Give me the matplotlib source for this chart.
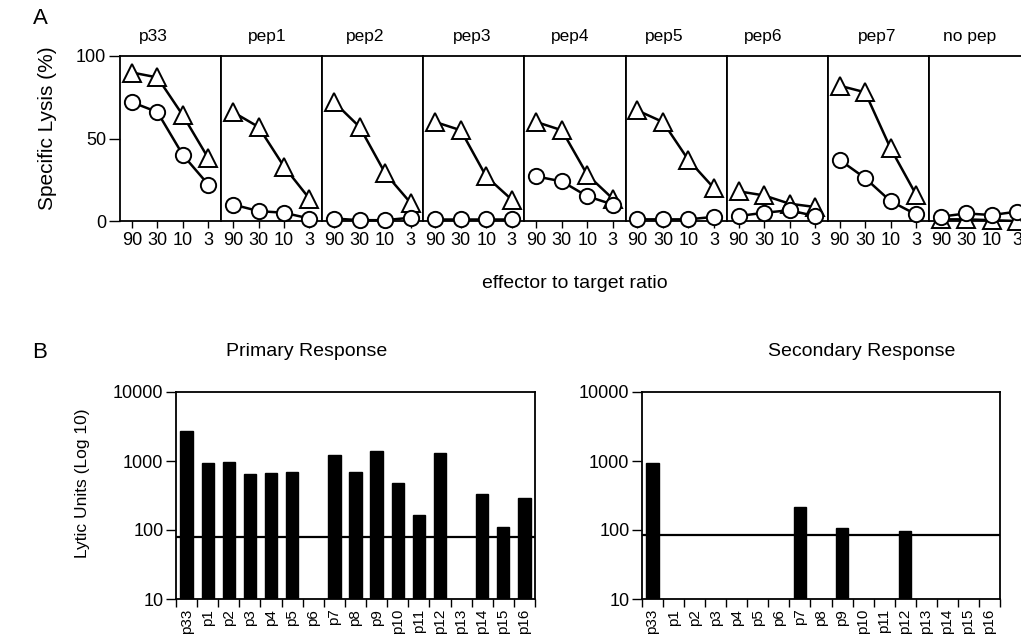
import matplotlib
matplotlib.use("Agg")
import matplotlib.pyplot as plt
import numpy as np
from matplotlib.ticker import FixedLocator, NullLocator, FixedFormatter

plt.rcParams['font.family'] = ['Liberation Sans', 'DejaVu Sans']

# ---------------- Data ----------------
# Panel A: specific lysis (%) at effector:target ratios
ratios = ['90', '30', '10', '3']
peptides_a = ['p33', 'pep1', 'pep2', 'pep3', 'pep4', 'pep5', 'pep6', 'pep7', 'no pep']
triangle_lysis = [
    [90, 87, 64, 38],
    [66, 57, 33, 13.5],
    [72, 57, 29, 11],
    [60, 55, 27, 13],
    [60, 55, 28, 13.5],
    [67, 60, 37, 20],
    [18, 15.5, 10.5, 8.5],
    [82, 78, 44, 16],
    [1, 1, 0.5, 0],
]
circle_lysis = [
    [72, 66, 40, 22],
    [10, 6, 5, 1.5],
    [1.5, 0.5, 0.5, 2],
    [1.5, 1.5, 1.5, 1.5],
    [27, 24, 15, 10],
    [1, 1, 1, 2.5],
    [3, 5, 6.5, 3],
    [37, 26, 12, 4],
    [2.6, 4.6, 3.6, 5.7],
]

# Panel B: lytic units
peptides_b = ['p33', 'p1', 'p2', 'p3', 'p4', 'p5', 'p6', 'p7', 'p8', 'p9',
              'p10', 'p11', 'p12', 'p13', 'p14', 'p15', 'p16']
primary_lu = [2700, 920, 960, 650, 660, 690, 0, 1210, 690, 1410,
              480, 163, 1290, 0, 330, 110, 290]
secondary_lu = [950, 0, 0, 0, 0, 0, 0, 215, 0, 107,
                0, 0, 97, 0, 0, 0, 0]
primary_threshold = 79
secondary_threshold = 85

# ---------------- Figure ----------------
W, H = 1021, 640
fig = plt.figure(figsize=(W / 100, H / 100), dpi=100)

def fx(px):
    return px / W

def fy(py):
    return 1 - py / H

# Panel A layout
a_left, a_width, a_top, a_bottom = 120, 101.1, 56, 221
xpos = np.arange(len(ratios))
title_x = [153, 267, 365, 472, 570, 664, 763, 877, 970]

for i, name in enumerate(peptides_a):
    l = a_left + i * a_width
    ax = fig.add_axes([fx(l), fy(a_bottom), a_width / W, (a_bottom - a_top) / H])
    ax.plot(xpos, triangle_lysis[i], color='black', lw=1.8, marker='^',
            markersize=12.5, markerfacecolor='white', markeredgecolor='black',
            markeredgewidth=1.4, clip_on=False, zorder=3)
    ax.plot(xpos, circle_lysis[i], color='black', lw=1.8, marker='o',
            markersize=11, markerfacecolor='white', markeredgecolor='black',
            markeredgewidth=1.4, clip_on=False, zorder=4)
    ax.set_xlim(-0.47, 3.5)
    ax.set_ylim(0, 100)
    ax.set_xticks(xpos)
    ax.set_xticklabels(ratios, fontsize=13)
    ax.tick_params(axis='x', direction='out', length=5, width=1, pad=3)
    if i == 0:
        ax.set_yticks([0, 50, 100])
        ax.set_yticklabels(['0', '50', '100'], fontsize=13)
        ax.tick_params(axis='y', direction='out', length=8, width=1, pad=2)
    else:
        ax.set_yticks([])
    for s in ax.spines.values():
        s.set_linewidth(1.3)
    fig.text(fx(title_x[i]), fy(36), name, ha='center', va='center', fontsize=12.5)

fig.text(fx(48), fy(128), 'Specific Lysis (%)', rotation=90, ha='center',
         va='center', fontsize=15)
fig.text(fx(575), fy(283), 'effector to target ratio', ha='center',
         va='center', fontsize=14)
fig.text(fx(40), fy(19), 'A', ha='center', va='center', fontsize=16)
fig.text(fx(40), fy(352), 'B', ha='center', va='center', fontsize=16)

# Panel B
b_top, b_bottom = 392, 599
b_axes = [(176, 535, primary_lu, primary_threshold, 'Primary Response', 307),
          (642, 1000, secondary_lu, secondary_threshold, 'Secondary Response', 862)]
xb = np.arange(len(peptides_b))
for (l, r, vals, thr, title, tx) in b_axes:
    ax = fig.add_axes([fx(l), fy(b_bottom), (r - l) / W, (b_bottom - b_top) / H])
    ax.set_yscale('log')
    vals = np.array(vals, dtype=float)
    mask = vals > 0
    ax.bar(xb[mask], vals[mask] - 10, bottom=10, width=0.58, color='black',
           edgecolor='black', zorder=2)
    ax.axhline(thr, color='black', lw=1.6, zorder=3)
    ax.set_xlim(-0.5, len(peptides_b) - 0.5)
    ax.set_ylim(10, 10000)
    ax.yaxis.set_major_locator(FixedLocator([10, 100, 1000, 10000]))
    ax.yaxis.set_major_formatter(FixedFormatter(['10', '100', '1000', '10000']))
    ax.yaxis.set_minor_locator(NullLocator())
    ax.tick_params(axis='y', direction='out', length=7, width=1, labelsize=13, pad=2)
    ax.set_xticks(xb)
    ax.set_xticklabels(peptides_b, rotation=90, fontsize=11)
    ax.tick_params(axis='x', which='major', length=0, pad=7)
    ax.set_xticks(np.arange(-0.5, len(peptides_b)), minor=True)
    ax.tick_params(axis='x', which='minor', direction='out', length=6, width=1)
    for s in ax.spines.values():
        s.set_linewidth(1.3)
    fig.text(fx(tx), fy(352), title, ha='center', va='center', fontsize=14)

fig.text(fx(82), fy(483), 'Lytic Units (Log 10)', rotation=90, ha='center',
         va='center', fontsize=12.5)

fig.savefig('out.png', dpi=100)
